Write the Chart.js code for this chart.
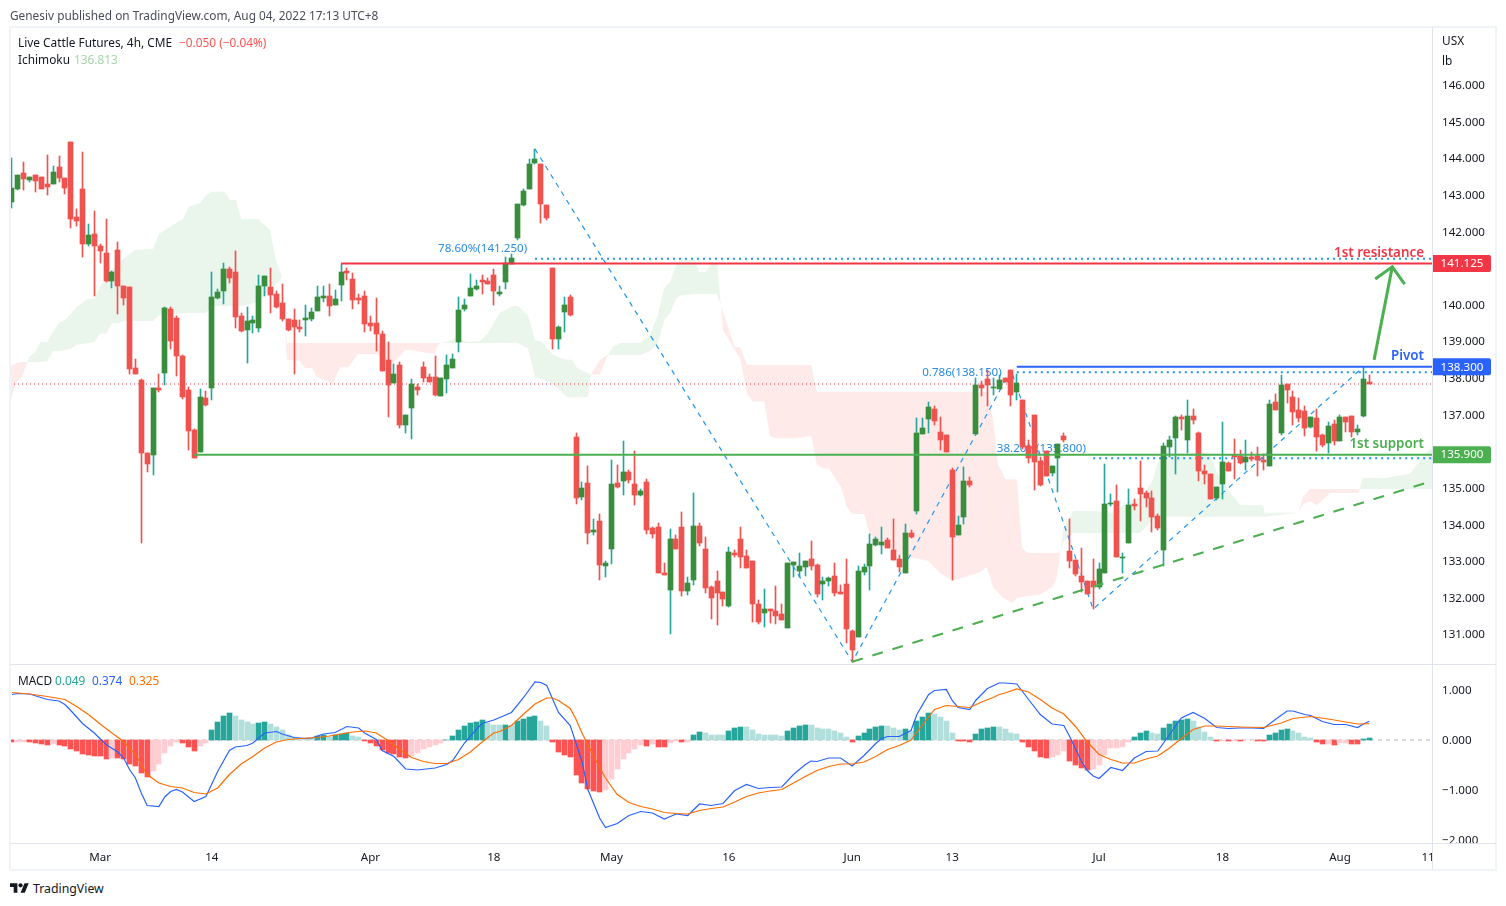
<!DOCTYPE html>
<html>
<head>
<meta charset="utf-8">
<title>Live Cattle Futures</title>
<script src="https://cdn.jsdelivr.net/npm/chart.js@4/dist/chart.umd.min.js"></script>
<style>
  html, body { margin: 0; background: #fff; }
  body { position: relative; width: 1506px; height: 906px; overflow: hidden; font-family: "Noto Sans", sans-serif; color: #131722; }
  canvas { position: absolute; left: 0; }
  #priceCanvas { top: 0; }
  #macdCanvas { top: 664px; }
  .label { position: absolute; font-size: 11.85px; line-height: 16px; white-space: nowrap; }
  .rule { position: absolute; background: #e0e3eb; }
  #frame { position: absolute; left: 9px; top: 26px; width: 1488px; height: 845px; box-sizing: border-box; border: 2px solid #f0f3fa; pointer-events: none; }
  #axisCorner { position: absolute; left: 1433px; top: 844px; width: 62px; height: 25px; background: #fff; }
</style>
</head>
<body>
<canvas id="priceCanvas" width="1497" height="664" style="width:1497px;height:664px"></canvas>
<canvas id="macdCanvas" width="1497" height="206" style="width:1497px;height:206px"></canvas>
<div id="axisCorner"></div>
<div id="frame"></div>
<div class="rule" style="left:10px;top:664px;width:1486px;height:1px"></div>
<div class="rule" style="left:10px;top:843px;width:1486px;height:1px"></div>
<div class="rule" style="left:1432px;top:27px;width:1px;height:843px"></div>

<div class="label" style="left:10px;top:7px;color:#4a4d57">Genesiv published on TradingView.com, Aug 04, 2022 17:13 UTC+8</div>
<div class="label" style="left:18px;top:34px">Live Cattle Futures, 4h, CME</div>
<div class="label" style="left:179px;top:34px;color:#ff5252">−0.050 (−0.04%)</div>
<div class="label" style="left:18px;top:51px">Ichimoku</div>
<div class="label" style="left:74px;top:51px;color:#a5d6a7">136.813</div>
<div class="label" style="left:18px;top:672px">MACD</div>
<div class="label" style="left:55px;top:672px;color:#26a69a">0.049</div>
<div class="label" style="left:92px;top:672px;color:#2962ff">0.374</div>
<div class="label" style="left:129px;top:672px;color:#ff6d00">0.325</div>
<div class="label" style="left:1442px;top:32px">USX</div>
<div class="label" style="left:1442px;top:52px">lb</div>
<svg style="position:absolute;left:10px;top:881px" width="19" height="15" viewBox="0 0 36 28"><path fill="#131722" d="M14 22H7V11H0V4h14v18zM28 22h-8l7.5-18h8L28 22z"/><circle fill="#131722" cx="20" cy="8" r="4"/></svg>
<div class="label" style="left:33px;top:881px;font-size:12.3px">TradingView</div>

<script>
// Candles, one entry per 4h bar
const opens = [
  142.80,143.16,143.60,143.40,143.54,143.49,143.30,143.30,143.76,143.46,
  144.44,142.39,143.16,141.66,141.93,141.61,141.41,140.64,141.49,140.51,
  140.48,138.27,137.94,135.95,135.89,137.72,138.13,139.88,139.63,138.60,
  137.67,136.57,135.97,137.45,137.72,140.18,140.37,140.97,140.89,139.69,
  139.31,139.50,139.36,140.51,140.48,140.29,140.04,139.61,139.58,139.39,
  139.58,139.61,139.83,140.18,140.24,139.99,140.54,140.92,140.70,140.18,
  140.24,139.50,139.50,139.20,138.49,137.86,138.35,136.71,137.17,137.75,
  138.30,138.02,138.02,137.50,137.97,138.27,138.98,139.88,140.24,140.43,
  140.67,140.64,140.81,140.29,140.62,141.11,141.82,142.72,143.16,143.87,
  143.84,142.72,141.00,139.06,139.80,140.21,136.38,134.74,135.13,133.79,
  134.09,132.86,133.32,135.13,135.18,135.43,135.10,134.80,135.15,133.90,
  133.92,132.67,132.20,133.60,133.92,132.18,132.48,133.95,133.32,132.28,
  132.45,132.15,131.77,133.21,133.60,133.13,132.99,131.82,131.57,131.68,
  131.63,131.55,131.16,132.89,132.72,132.83,133.05,132.89,132.37,132.45,
  132.59,132.15,132.37,131.08,130.92,132.69,132.86,133.43,133.43,133.57,
  133.30,133.05,132.67,133.76,134.36,136.47,136.87,137.15,136.52,136.44,
  135.48,133.71,134.20,135.18,136.47,137.80,137.97,137.72,137.69,137.99,
  138.21,137.61,137.39,136.14,136.98,135.73,136.00,135.40,135.81,136.41,
  133.27,133.02,132.59,132.45,132.45,132.29,132.67,134.55,134.63,133.08,
  133.49,134.55,134.99,134.85,134.71,134.22,133.30,136.11,136.36,136.93,
  136.30,136.96,136.49,135.45,135.37,134.72,135.10,135.67,135.89,135.86,
  135.70,135.84,135.86,135.75,135.59,137.34,136.49,137.83,137.47,137.12,
  137.09,136.66,136.90,136.44,136.22,136.74,136.27,136.93,136.96,136.52,
  136.96,137.88
];
const closes = [
  143.19,143.54,143.43,143.49,143.38,143.16,143.21,143.62,143.46,143.19,
  142.34,142.28,141.66,141.90,141.60,141.46,140.64,140.89,140.51,140.18,
  138.24,138.10,135.95,135.64,137.72,137.67,139.91,139.01,138.60,137.48,
  136.55,135.81,137.48,137.26,140.21,140.34,140.97,140.73,139.66,139.28,
  139.55,139.58,140.51,140.78,140.26,139.93,139.61,139.31,139.39,139.33,
  139.63,139.80,140.21,140.24,139.96,140.15,140.89,140.86,140.13,140.13,
  139.47,139.41,139.20,138.19,137.80,138.10,136.71,136.98,137.83,137.67,
  138.00,137.88,137.53,137.99,138.35,138.51,139.85,139.99,140.45,140.51,
  140.62,140.56,140.37,140.34,141.14,141.27,142.75,143.10,143.84,143.98,
  142.75,142.37,139.06,139.39,139.99,139.72,134.72,134.99,133.76,133.84,
  132.89,132.94,135.10,135.02,135.43,135.21,134.80,134.91,133.84,133.73,
  132.67,132.61,133.60,133.32,132.18,132.39,133.95,133.49,132.26,131.98,
  132.12,131.96,133.24,133.16,133.10,132.80,131.82,131.33,131.68,131.63,
  131.49,131.38,132.94,132.97,132.86,133.00,132.86,132.09,132.45,132.53,
  132.12,132.09,131.14,130.56,132.72,132.83,133.46,133.60,133.51,133.35,
  133.02,132.83,133.76,133.65,136.49,136.63,137.20,136.82,136.30,135.97,
  133.65,133.98,135.18,135.07,137.80,137.72,137.80,137.75,137.94,137.89,
  137.53,137.86,136.11,135.81,135.70,135.07,135.32,135.59,136.19,136.30,
  133.00,132.64,132.42,132.09,132.29,132.78,134.55,134.58,133.10,133.10,
  134.53,134.50,134.83,134.71,134.20,133.90,136.14,136.30,136.93,136.87,
  136.96,136.85,135.45,135.37,134.69,135.02,135.70,135.45,135.84,135.67,
  135.84,135.78,135.75,135.70,137.28,137.12,137.80,137.67,137.07,136.90,
  136.63,136.93,136.38,136.16,136.68,136.27,136.93,136.79,136.52,136.60,
  137.97,137.83
];
const highs = [
  144.00,143.54,143.90,143.49,143.54,143.49,144.09,143.79,144.06,143.46,
  144.44,142.61,144.17,142.20,142.56,141.66,142.34,140.92,141.71,140.51,
  140.48,138.51,137.97,135.95,137.72,138.10,139.93,139.93,139.69,138.62,
  137.75,136.60,137.69,137.64,140.89,140.43,141.14,141.03,141.46,139.77,
  139.93,139.69,140.81,140.78,141.00,140.37,140.56,139.61,139.88,139.58,
  139.99,139.91,140.51,140.51,140.56,140.40,141.11,141.00,140.86,140.29,
  140.37,139.69,140.18,139.28,138.98,138.38,138.43,136.98,137.97,137.83,
  138.43,138.10,138.60,137.99,138.62,138.65,140.21,140.15,140.84,140.67,
  140.81,140.73,140.97,140.51,141.30,141.38,142.75,143.16,143.98,144.25,
  143.84,142.72,141.00,139.41,140.21,140.26,136.49,135.15,135.59,134.14,
  134.28,132.99,135.75,135.62,136.27,135.48,136.00,134.96,135.23,133.92,
  134.03,132.94,133.87,133.70,134.33,132.56,134.85,134.03,133.65,132.31,
  132.72,132.15,133.38,133.30,133.92,133.30,132.99,131.93,132.23,131.68,
  132.31,131.82,132.94,132.97,133.21,133.00,133.54,132.91,132.56,132.56,
  132.94,132.34,133.05,131.11,132.86,132.91,133.73,133.65,133.92,133.62,
  134.14,133.16,134.01,133.84,136.90,136.90,137.34,137.23,136.93,136.44,
  135.54,134.22,135.56,135.29,137.99,137.91,138.21,137.99,138.08,137.99,
  138.21,138.10,137.39,136.30,136.98,135.84,136.00,135.59,136.19,136.49,
  134.14,133.02,133.35,132.45,133.05,132.94,135.65,134.83,135.07,133.21,
  134.96,134.69,135.73,134.91,134.91,134.28,136.22,136.41,136.96,136.98,
  137.39,137.15,136.52,135.62,135.37,135.02,136.79,135.70,136.33,136.03,
  136.30,135.97,136.11,135.92,137.39,137.56,138.08,137.83,137.64,137.45,
  137.23,136.93,137.15,136.46,136.79,136.85,136.98,136.93,136.96,136.71,
  138.30,138.08
];
const lows = [
  142.64,143.13,143.13,143.35,143.08,143.16,142.99,143.30,143.35,143.02,
  142.09,142.15,141.30,141.60,140.23,141.14,140.62,140.45,139.74,139.99,
  138.10,138.10,133.49,135.43,135.34,137.61,137.80,138.79,138.05,137.42,
  136.03,135.81,135.97,137.23,137.39,140.15,140.02,140.59,139.36,139.25,
  138.40,139.22,139.25,140.24,139.77,139.91,139.55,139.28,138.10,139.25,
  139.14,139.55,139.83,140.07,139.69,139.99,140.10,140.67,139.88,140.02,
  139.25,139.28,138.73,138.19,136.93,137.86,136.63,136.49,136.33,137.53,
  137.88,137.88,137.50,137.50,137.58,138.27,138.71,139.83,140.24,140.40,
  140.29,140.56,139.99,140.24,140.43,141.11,141.76,142.69,143.16,143.84,
  142.23,142.31,138.79,138.79,139.25,139.69,134.55,134.66,133.46,133.70,
  132.48,132.56,132.91,134.99,134.80,135.13,134.52,134.77,133.73,133.62,
  132.67,132.61,131.00,133.32,132.04,132.07,132.34,133.40,132.12,131.41,
  131.25,131.77,131.74,133.10,132.80,132.80,131.33,131.27,131.19,131.30,
  131.27,131.38,131.16,132.56,132.56,132.59,132.75,132.01,131.93,132.31,
  132.04,132.09,130.75,130.24,130.92,132.61,132.20,133.41,133.19,133.35,
  133.02,132.69,132.67,133.62,134.28,136.47,136.49,136.71,136.03,135.97,
  132.48,133.71,134.01,135.02,136.47,137.50,137.23,137.53,137.69,137.89,
  137.23,137.39,136.06,135.67,134.93,135.04,135.32,135.32,134.88,136.25,
  132.80,132.59,132.15,132.09,131.68,132.23,132.67,134.50,133.10,132.67,
  133.49,134.39,134.09,134.47,133.79,133.84,132.86,135.84,135.37,136.57,
  135.94,136.74,135.18,135.10,134.69,134.66,134.69,135.45,135.24,135.64,
  135.48,135.73,135.32,135.48,135.59,137.12,136.44,137.31,136.71,136.79,
  136.41,136.63,136.00,136.11,135.94,136.16,136.27,136.52,136.38,136.44,
  136.93,137.83
];

// Ichimoku cloud outline, read at its corners (bar index, span A, span B)
const cloudX = [
  -0.3,0.7,1.7,2.6,2.9,3.9,4.9,6,7,8,9,10,10.9,11.9,12.9,14,15,16,17,18,19.1,20.1,20.9,24,25,27.1,29.1,30.1,32,33,34,36.1,37.1,38.1,39,41.9,43.9,44.9,45.9,46.5,46.8,
  49,49.9,51.1,51.9,52.9,54.6,55.8,57.2,58.9,62.1,64.8,66.9,68.1,70.6,72,72.3,72.8,74,75.7,77.4,79.6,81,83,85.3,86.1,87.8,89,90.2,92.1,93.8,94.5,95.3,96.2,98,98.5,
  100.1,101.3,102.3,103.5,106.9,108.6,109.9,111,112,113,113.7,116.2,116.9,118.1,119.1,120,121,123,123.9,125.1,126.1,128,129,130,133.3,136,137,138,139,141.1,142.1,143,145,146,
  147.7,150.3,152.8,155.9,157.9,160,164.7,165.9,167,167.8,168.5,169,170.2,171,171.9,172.9,174.9,177,177.8,178.4,178.9,180.6,184,187.4,189.8,192,194,195,195.9,202.2,203.9,205.1,207.3,209,212.9,213.2,218.9,
  219.7,220.9,222.1,224.3,229.1,229.9,234,235.4,237.9,239.3,240.8,241.7
];
const spanA = [
  137.34,137.88,138.02,138.43,138.57,138.70,138.98,138.98,139.25,139.50,139.58,139.74,139.93,140.04,140.15,140.15,140.51,140.67,140.97,141.08,141.27,141.38,141.49,141.52,141.93,142.15,142.34,142.67,142.77,142.99,143.08,143.08,142.86,142.86,142.34,142.34,142.04,141.22,140.78,139.31,138.49,
  138.46,138.27,138.27,138.00,137.97,137.83,138.29,138.29,138.65,138.65,138.38,138.76,138.76,138.68,138.65,138.84,138.95,138.98,139.11,138.98,139.00,139.22,139.77,139.96,139.96,139.71,139.03,138.98,138.62,138.51,138.49,138.49,138.27,138.13,138.08,
  138.10,138.59,138.84,138.95,138.95,139.17,139.71,140.45,140.62,141.08,141.22,141.22,140.89,140.89,141.14,141.14,139.31,138.76,138.54,137.56,137.36,137.36,136.41,136.35,136.35,136.41,135.62,135.53,135.53,135.01,134.47,134.28,134.28,133.70,
  133.43,133.24,133.10,133.00,132.67,132.45,132.69,132.83,132.26,132.15,132.01,131.96,131.85,131.98,132.01,132.04,132.07,132.28,132.53,133.24,133.84,134.36,134.36,134.31,134.61,134.72,135.15,135.67,135.95,135.95,135.92,135.40,134.85,134.52,134.52,134.31,134.31,
  134.55,134.63,134.52,134.85,134.85,135.26,135.26,135.32,135.37,135.67,135.97,136.08
];
const spanB = [
  138.32,138.40,138.43,138.43,138.43,138.43,138.43,138.46,138.73,138.73,138.76,138.79,138.90,138.92,138.95,138.98,139.20,139.20,139.50,139.50,139.55,139.55,139.55,139.55,139.71,139.74,139.77,139.77,139.77,139.77,139.96,139.96,139.96,139.96,139.96,140.07,140.40,140.54,140.73,139.31,138.95,
  138.95,138.95,138.95,138.95,138.95,138.95,138.95,138.95,138.95,138.95,138.95,138.95,138.95,138.95,138.95,138.95,138.95,138.95,138.95,138.95,138.95,138.95,138.95,138.95,138.95,138.81,138.02,137.97,137.83,137.58,137.47,137.47,137.47,137.47,138.08,
  138.49,138.62,138.62,138.62,138.62,138.73,138.95,139.58,139.77,140.15,140.25,140.29,140.29,140.29,140.29,140.29,139.80,138.84,138.84,138.35,138.35,138.35,138.35,138.35,138.35,138.35,137.61,137.61,137.61,137.61,137.61,137.61,137.61,137.61,
  137.61,137.61,137.61,137.61,137.61,137.61,137.61,137.61,136.85,135.62,135.43,135.23,135.23,135.23,133.35,133.21,133.21,133.21,133.21,133.24,133.51,133.76,133.76,133.76,133.76,133.76,134.11,134.20,134.20,134.20,134.20,134.20,134.20,134.20,134.20,134.20,134.31,
  134.74,134.96,134.96,134.96,134.96,134.96,134.96,134.96,134.96,134.96,134.96,134.96
];

// Levels and drawn trendlines
const resistanceLevel = 141.125, pivotLevel = 138.3, supportLevel = 135.9, lastPrice = 137.83;
const fibLevels = [141.25, 138.15, 135.8];
const fibStarts = [89, 171, 184];
const levelStarts = [56, 171, 31];
const fibPathX = [89, 143, 170, 184, 230];
const fibPathY = [144.25, 130.24, 138.21, 131.68, 138.30];
const supportTrendX = [143, 241.66];
const supportTrendY = [130.24, 135.18];
const arrowShaftX = [231.8, 234.9];
const arrowShaftY = [138.49, 141.03];
const arrowHeadX = [232, 234.9, 237];
const arrowHeadY = [140.70, 141.03, 140.56];

// MACD pane
const macdHist = [
  -.033,-.033,-.033,-.04,-.053,-.08,-.093,-.087,-.093,-.12,
  -.187,-.227,-.28,-.3,-.32,-.327,-.373,-.36,-.367,-.373,
  -.48,-.52,-.667,-.747,-.613,-.48,-.253,-.113,-.033,-.067,
  -.133,-.213,-.113,-.067,.2,.353,.48,.533,.48,.4,
  .36,.32,.347,.36,.313,.26,.2,.1,.053,.047,
  .047,.047,.08,.093,.067,.093,.113,.14,.087,.06,
  -.02,-.067,-.12,-.2,-.253,-.28,-.333,-.367,-.32,-.253,
  -.187,-.133,-.1,-.053,.007,.08,.2,.28,.333,.367,
  .4,.333,.307,.293,.3,.293,.373,.413,.467,.473,
  .373,.28,-.04,-.233,-.3,-.347,-.693,-.853,-.987,-1.013,
  -1.033,-1,-.773,-.573,-.387,-.267,-.187,-.107,-.12,-.08,
  -.133,-.147,-.053,-.02,-.047,-.04,.093,.16,.133,.093,
  .093,.093,.173,.24,.253,.253,.2,.12,.1,.1,
  .1,.073,.173,.233,.28,.293,.293,.24,.22,.22,
  .18,.133,.053,-.047,.073,.133,.22,.26,.273,.273,
  .233,.193,.213,.187,.373,.467,.533,.52,.467,.373,
  .133,-.013,-.027,-.04,.12,.213,.247,.26,.253,.213,
  .147,.12,-.047,-.147,-.227,-.333,-.353,-.347,-.293,-.227,
  -.413,-.507,-.567,-.6,-.587,-.507,-.307,-.167,-.167,-.147,
  -.033,.053,.133,.173,.147,.113,.233,.313,.387,.4,
  .413,.387,.253,.153,.053,-.027,-.02,-.027,-.02,-.027,
  -.007,-.007,-.013,-.027,.093,.133,.2,.213,.173,.133,
  .067,.047,-.033,-.08,-.073,-.1,-.06,-.06,-.08,-.087,
  .013,.049
];
const macdX = [
  0,1,3,6,8,9,10,12,14,16,18,19,20,21,22,23,25,26,27,28,29,31,33,35,37,38,40,41,43,45,46,48,50,51,53,55,57,59,60,62,63,65,67,69,72,74,75,77,79,80,82,
  85,87,89,90,91,93,95,97,98,100,101,103,105,107,109,111,113,115,117,119,121,123,125,127,129,131,133,135,136,137,139,141,143,145,147,148,149,151,153,154,156,157,159,160,161,163,164,166,168,
  169,171,173,175,177,179,180,182,183,184,185,187,189,191,193,195,197,199,201,203,205,207,209,211,213,215,217,218,220,221,223,225,227,229,230,231
];
const macdLine = [
  .91,.93,.92,.81,.78,.71,.59,.33,.14,-.09,-.24,-.36,-.59,-.76,-1.06,-1.31,-1.33,-1.14,-1.03,-.99,-1.04,-1.23,-1.13,-.63,-.21,-.14,-.11,-.06,.14,.17,.12,.05,.03,.04,.12,.15,.27,.24,.14,.01,-.21,-.33,-.58,-.6,-.56,-.49,-.41,-.06,.21,.33,.4,
  .55,.84,1.16,1.15,1.09,.55,.29,-.43,-.99,-1.56,-1.75,-1.67,-1.51,-1.43,-1.46,-1.58,-1.48,-1.51,-1.28,-1.31,-1.27,-1.01,-.89,-.97,-.95,-.94,-.69,-.49,-.42,-.43,-.36,-.36,-.52,-.31,-.07,.03,.07,.07,.19,.51,.91,.99,1.01,.79,.65,.61,.79,1.03,1.14,
  1.14,1.12,.81,.51,.32,.29,.07,-.43,-.61,-.72,-.77,-.55,-.61,-.36,-.23,-.22,.11,.44,.55,.43,.25,.23,.24,.24,.23,.41,.58,.58,.51,.49,.37,.31,.31,.25,.32,.374
];
const signalX = [
  0,3,6,9,11,13,15,17,19,21,23,25,27,29,31,33,35,37,39,41,43,45,47,49,52,54,56,58,60,62,64,66,68,70,72,74,76,78,80,82,
  83,85,87,89,91,92,93,95,96,97,98,99,101,103,105,107,109,111,113,115,117,119,121,123,125,127,129,131,133,135,137,139,141,143,145,147,149,151,153,155,157,159,161,163,165,167,168,
  169,171,173,175,177,179,181,183,185,187,189,191,193,195,197,199,201,203,205,209,213,216,218,221,224,227,229,231
];
const signalLine = [
  .95,.92,.87,.81,.67,.51,.32,.14,-.03,-.29,-.69,-.86,-.93,-.96,-1.05,-1.08,-.96,-.69,-.48,-.33,-.16,-.04,.01,.03,.05,.08,.12,.16,.18,.14,-.01,-.19,-.35,-.43,-.47,-.47,-.39,-.24,-.04,.14,
  .17,.29,.51,.72,.84,.84,.79,.63,.41,.14,-.09,-.33,-.76,-1.09,-1.25,-1.33,-1.38,-1.45,-1.47,-1.48,-1.41,-1.37,-1.34,-1.24,-1.13,-1.06,-1.02,-.99,-.86,-.73,-.61,-.53,-.48,-.48,-.44,-.33,-.19,-.11,0,.31,.61,.69,.67,.65,.76,.85,.91,
  .94,1.02,.96,.81,.64,.52,.27,-.04,-.29,-.39,-.46,-.46,-.38,-.32,-.16,.03,.21,.28,.28,.26,.25,.34,.43,.47,.42,.36,.32,.325
];

// Axis ticks (136 and 141 sit under the price tags, so they are not printed)
const priceTicks = [131,132,133,134,135,137,138,139,140,142,143,144,145,146];
const macdTicks = [1,0,-1,-2];
const xTickBars = [15,34,61,82,102,122,143,160,185,206,226,241];
const xTickLabels = ['Mar','14','Apr','18','May','16','Jun','13','Jul','18','Aug','11'];

// Text on the chart, anchored in bar index and price
const fibNotes = [
  { text: '78.60%(141.250)', bar: 72.5, price: 141.52 },
  { text: '0.786(138.150)', bar: 154.9, price: 138.15 },
  { text: '38.20%(135.800)', bar: 167.6, price: 136.06 }
];
const levelNotes = [
  { text: '1st resistance', bar: 240.3, price: 141.41, color: '#f23645' },
  { text: 'Pivot', bar: 240.3, price: 138.59, color: '#2962ff' },
  { text: '1st support', bar: 240.3, price: 136.18, color: '#4caf50' }
];
const priceTags = [
  { value: resistanceLevel, label: '141.125', color: '#f23645' },
  { value: pivotLevel, label: '138.300', color: '#2962ff' },
  { value: supportLevel, label: '135.900', color: '#4caf50' }
];

const X_MIN = -0.34, X_MAX = 241.66;
const FONT = '"Noto Sans", sans-serif';
const UP = '#388e3c', UP_WICK = '#26a69a', DOWN = '#ef5350';
const FIB_BLUE = '#2196f3', GREEN = '#4caf50';

Chart.defaults.font.family = FONT;
Chart.defaults.font.size = 11.6;
Chart.defaults.color = '#131722';
Chart.defaults.animation = false;

const bars = opens.map((_, i) => i);
const isUp = i => closes[i] >= opens[i];
const pairs = (xs, ys) => xs.map((x, i) => ({ x, y: ys[i] }));

function lineSet(data, color, width, dash, order) {
    return { type: 'line', data, borderColor: color, borderWidth: width, borderDash: dash || [], pointRadius: 0, fill: false, tension: 0, order };
}

function levelSet(start, value, color, width, dash, order) {
    return lineSet([{ x: start, y: value }, { x: X_MAX, y: value }], color, width, dash, order);
}

function fixedScale(extra) {
    return Object.assign({ grid: { display: false, drawTicks: false }, border: { display: false } }, extra);
}

function priceText(v) {
    return (v < 0 ? '\u2212' : '') + Math.abs(v).toFixed(3);
}

function yAxis(min, max, values) {
    return fixedScale({
        position: 'right', min, max,
        afterBuildTicks: scale => { scale.ticks = values.map(value => ({ value })); },
        afterFit: scale => { scale.width = 65; scale.paddingTop = 0; scale.paddingBottom = 0; },
        ticks: { padding: 10, labelOffset: 1, callback: priceText, color: '#131722' }
    });
}

// Snap bars to whole pixels, the source chart has no soft bar edges
const crispBars = {
    id: 'crispBars',
    afterDatasetsUpdate(chart) {
        chart.getSortedVisibleDatasetMetas().filter(meta => meta.type === 'bar').forEach(meta => {
            meta.data.forEach(bar => {
                bar.x = Math.floor(bar.x) + 0.5;
                bar.y = Math.round(bar.y);
                bar.base = Math.round(bar.base);
                if (bar.y === bar.base && meta.controller.getDataset().minBarLength) bar.base = bar.y + 1;
            });
        });
    }
};

// Fib notes sit under the candles, the rest is drawn on top
const notesPlugin = {
    id: 'notes',
    beforeDatasetsDraw(chart) {
        const { ctx, scales } = chart;
        ctx.save();
        ctx.font = '11.6px ' + FONT;
        ctx.fillStyle = '#2a8be0';
        ctx.textBaseline = 'middle';
        fibNotes.forEach(n => ctx.fillText(n.text, scales.x.getPixelForValue(n.bar), scales.y.getPixelForValue(n.price)));
        ctx.restore();
    },
    afterDraw(chart) {
        const { ctx, scales, chartArea } = chart;
        ctx.save();
        ctx.textBaseline = 'middle';
        ctx.font = '600 13.4px ' + FONT;
        ctx.textAlign = 'right';
        levelNotes.forEach(n => {
            ctx.fillStyle = n.color;
            ctx.fillText(n.text, scales.x.getPixelForValue(n.bar), scales.y.getPixelForValue(n.price));
        });
        ctx.font = '11.6px ' + FONT;
        ctx.textAlign = 'center';
        priceTags.forEach(t => {
            const y = scales.y.getPixelForValue(t.value);
            ctx.fillStyle = t.color;
            ctx.beginPath();
            ctx.roundRect(chartArea.right, y - 8.5, 59, 17, [0, 2, 2, 0]);
            ctx.fill();
            ctx.fillStyle = '#fff';
            ctx.fillText(t.label, chartArea.right + 30, y + 0.5);
        });
        ctx.restore();
    }
};

new Chart(document.getElementById('priceCanvas'), {
    data: {
        datasets: [
            {
                type: 'line', data: pairs(cloudX, spanA), borderWidth: 0, pointRadius: 0, tension: 0, order: 20,
                fill: { target: 1, above: 'rgba(67,160,71,0.11)', below: 'rgba(244,67,54,0.11)' }
            },
            { type: 'line', data: pairs(cloudX, spanB), borderWidth: 0, pointRadius: 0, tension: 0, fill: false, order: 21 },
            lineSet([{ x: X_MIN, y: lastPrice }, { x: X_MAX, y: lastPrice }], '#f23645', 1, [1, 3], 15),
            lineSet(pairs(fibPathX, fibPathY), FIB_BLUE, 1.2, [5, 5], 12),
            levelSet(fibStarts[0], fibLevels[0], FIB_BLUE, 2, [2, 4], 11),
            levelSet(fibStarts[1], fibLevels[1], FIB_BLUE, 2, [2, 4], 11),
            levelSet(fibStarts[2], fibLevels[2], FIB_BLUE, 2, [2, 4], 11),
            {
                type: 'bar', grouped: false, barThickness: 1, order: 6,
                data: bars.map(i => ({ x: i, y: [lows[i], highs[i]] })),
                backgroundColor: bars.map(i => isUp(i) ? UP_WICK : DOWN)
            },
            {
                type: 'bar', grouped: false, barThickness: 5, minBarLength: 1, order: 5,
                data: bars.map(i => ({ x: i, y: [opens[i], closes[i]] })),
                backgroundColor: bars.map(i => isUp(i) ? UP : DOWN)
            },
            levelSet(levelStarts[0], resistanceLevel, '#f23645', 2, [], 3),
            levelSet(levelStarts[1], pivotLevel, '#2962ff', 2, [], 3),
            levelSet(levelStarts[2], supportLevel, GREEN, 2, [], 3),
            lineSet(pairs(supportTrendX, supportTrendY), GREEN, 2, [11, 10], 2),
            lineSet(pairs(arrowShaftX, arrowShaftY), GREEN, 3, [], 1),
            lineSet(pairs(arrowHeadX, arrowHeadY), GREEN, 3, [], 1)
        ]
    },
    options: {
        responsive: false,
        layout: { padding: { left: 10, top: 28, right: 0, bottom: 0 } },
        plugins: { legend: { display: false }, tooltip: { enabled: false } },
        scales: {
            x: fixedScale({ type: 'linear', min: X_MIN, max: X_MAX, offset: false, display: false }),
            y: yAxis(130.18, 147.557, priceTicks)
        }
    },
    plugins: [crispBars, notesPlugin]
});

// Histogram shade follows the usual rule: strong while growing away from zero
function histColor(i) {
    const v = macdHist[i], prev = i ? macdHist[i - 1] : 0;
    if (v >= 0) return v > prev ? '#26a69a' : '#b2dfdb';
    return v < prev ? '#ff5252' : '#ffcdd2';
}

new Chart(document.getElementById('macdCanvas'), {
    data: {
        datasets: [
            lineSet([{ x: X_MIN, y: 0 }, { x: X_MAX, y: 0 }], 'rgba(120,123,134,0.55)', 1, [4, 4], 5),
            {
                type: 'bar', grouped: false, barThickness: 5, order: 3,
                data: macdHist.map((y, x) => ({ x, y })),
                backgroundColor: macdHist.map((_, i) => histColor(i))
            },
            lineSet(pairs(macdX, macdLine), '#2962ff', 1.2, [], 2),
            lineSet(pairs(signalX, signalLine), '#ff6d00', 1.2, [], 1)
        ]
    },
    options: {
        responsive: false,
        layout: { padding: { left: 10, top: 0, right: 0, bottom: 0 } },
        plugins: { legend: { display: false }, tooltip: { enabled: false } },
        scales: {
            x: fixedScale({
                type: 'linear', min: X_MIN, max: X_MAX, offset: false,
                afterBuildTicks: scale => { scale.ticks = xTickBars.map(value => ({ value })); },
                afterFit: scale => { scale.height = 27; scale.paddingLeft = 0; scale.paddingRight = 0; },
                ticks: {
                    autoSkip: false, maxRotation: 0, padding: 8, color: '#131722',
                    callback: v => xTickLabels[xTickBars.indexOf(v)]
                }
            }),
            y: yAxis(-2.06, 1.52, macdTicks)
        }
    },
    plugins: [crispBars]
});
</script>
</body>
</html>
